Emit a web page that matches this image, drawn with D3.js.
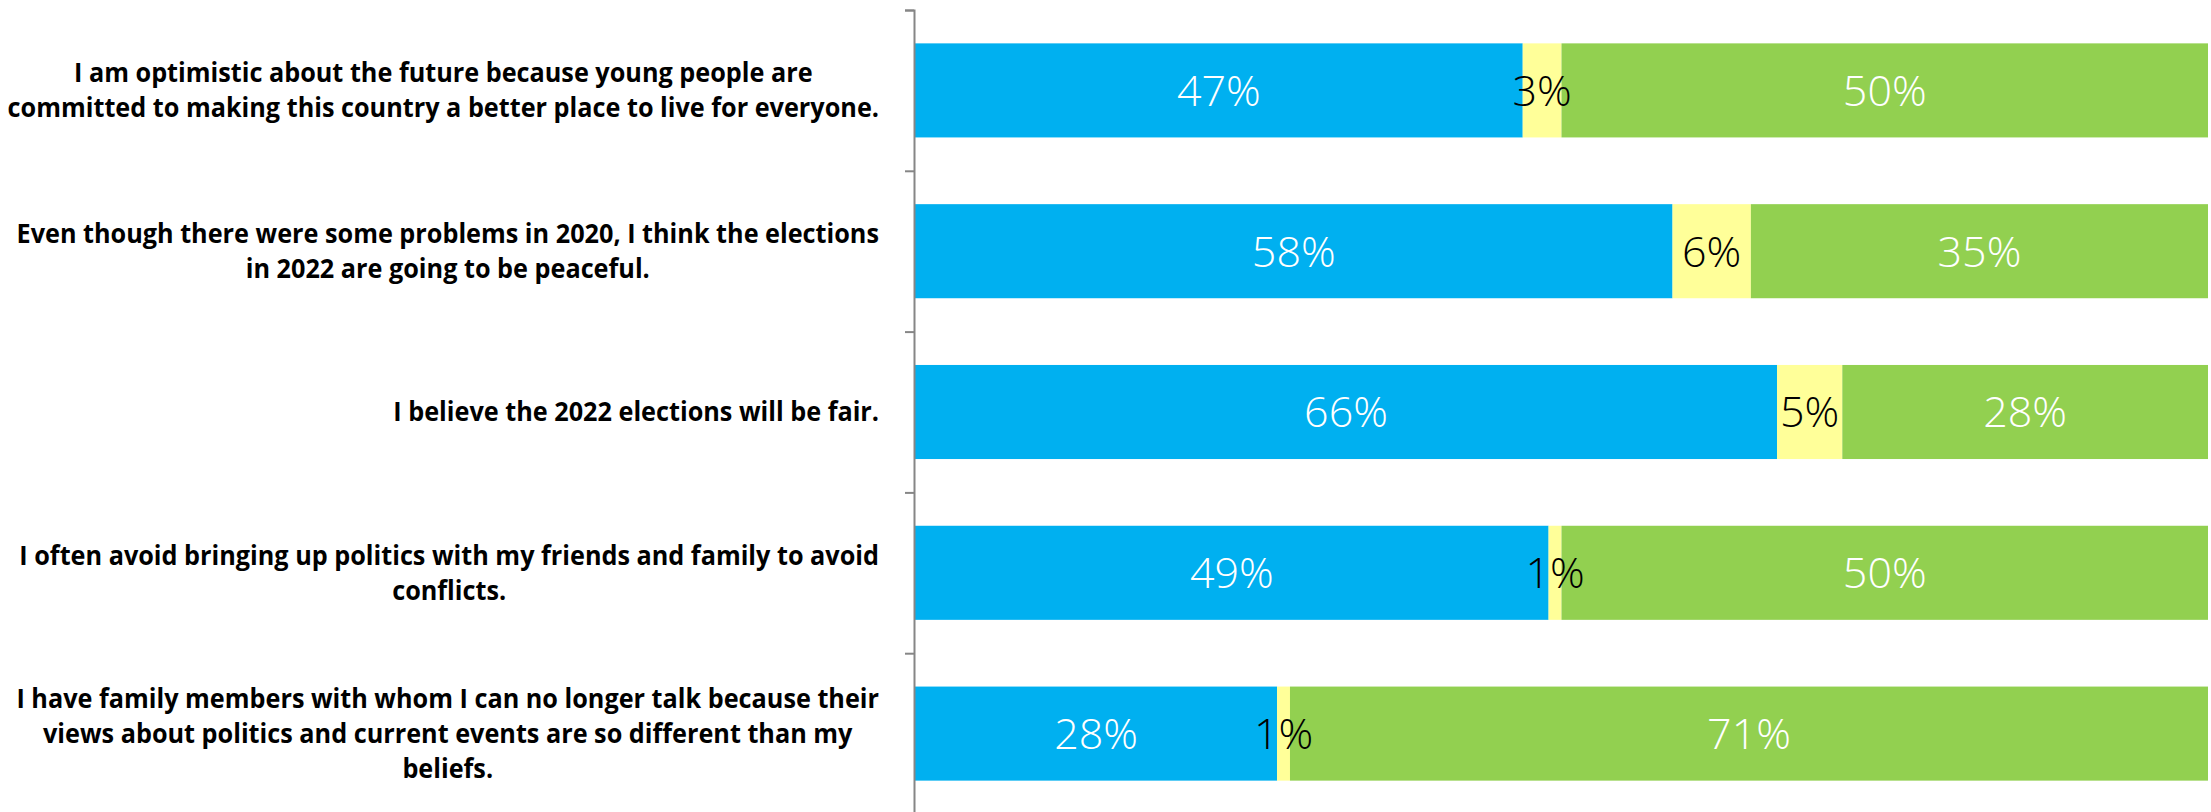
<!DOCTYPE html>
<html>
<head>
<meta charset="utf-8">
<script src="https://cdn.jsdelivr.net/npm/d3@7"></script>
<style>
  html, body { margin: 0; padding: 0; background: #fff; }
  svg { display: block; }
</style>
</head>
<body>
<svg id="chart" width="2211" height="812"></svg>
<script>
// ---- data ----
const categories = [
  "I am optimistic about the future because young people are\ncommitted to making this country a better place to live for everyone.",
  "Even though there were some problems in 2020, I think the elections\nin 2022 are going to be peaceful.",
  "I believe the 2022 elections will be fair.",
  "I often avoid bringing up politics with my friends and family to avoid\nconflicts.",
  "I have family members with whom I can no longer talk because their\nviews about politics and current events are so different than my\nbeliefs."
];
const seriesNames = ["agree", "neutral", "disagree"];
const agree    = [47, 58, 66, 49, 28];
const neutral  = [3, 6, 5, 1, 1];
const disagree = [50, 35, 28, 50, 71];
const seriesColors = ["#00B0F0", "#FFFF99", "#92D050"];
const labelColors  = ["#ffffff", "#000000", "#ffffff"];

// ---- layout ----
const W = 2211, H = 812;
const plot = { left: 914, right: 2208, top: 10, bottom: 814 };
const catFont = 27, catLine = 35, catScaleX = 0.935, catGap = 35;
const valFont = 43;

const rows = categories.map((c, i) => ({ cat: c, agree: agree[i], neutral: neutral[i], disagree: disagree[i] }));

const svg = d3.select("#chart");

const y = d3.scaleBand()
  .domain(d3.range(categories.length))
  .range([plot.top, plot.bottom])
  .paddingInner(0.415)
  .paddingOuter(0.2075);

const x = d3.scaleLinear().domain([0, 1]).range([plot.left + 1, plot.right]);

const stack = d3.stack().keys(seriesNames).offset(d3.stackOffsetExpand);
const stacked = stack(rows);

// bars
const layers = svg.append("g").selectAll("g")
  .data(stacked)
  .join("g")
  .attr("fill", (d, i) => seriesColors[i]);

layers.selectAll("rect")
  .data(d => d.map((v, j) => ({ v, j })))
  .join("rect")
  .attr("x", d => x(d.v[0]))
  .attr("width", d => x(d.v[1]) - x(d.v[0]))
  .attr("y", d => y(d.j))
  .attr("height", y.bandwidth());

// value labels
stacked.forEach((layer, si) => {
  svg.append("g").selectAll("text")
    .data(layer.map((v, j) => ({ v, j })))
    .join("text")
    .attr("transform", d => `translate(${(x(d.v[0]) + x(d.v[1])) / 2},${y(d.j) + y.bandwidth() / 2})`)
    .attr("text-anchor", "middle")
    .attr("dy", "0.36em")
    .style("font-family", "'Segoe UI Light','Open Sans','Lato',sans-serif")
    .style("font-weight", 300)
    .style("font-size", valFont + "px")
    .attr("fill", labelColors[si])
    .text(d => d.v.data[seriesNames[si]] + "%");
});

// axis (ticks between categories)
const bounds = d3.scaleLinear().domain([0, categories.length]).range([plot.top, plot.bottom]);
const axis = svg.append("g")
  .attr("transform", `translate(${plot.left},0)`)
  .call(d3.axisLeft(bounds).ticks(categories.length).tickFormat("").tickSize(9).tickSizeOuter(9));
axis.selectAll("path, line").attr("stroke", "#868686").attr("stroke-width", 2);

// category labels
categories.forEach((c, i) => {
  const lines = c.split("\n");
  const cy = y(i) + y.bandwidth() / 2;
  const g = svg.append("g")
    .attr("transform", `translate(${plot.left - catGap},0) scale(${catScaleX},1)`);
  const texts = g.selectAll("text")
    .data(lines)
    .join("text")
    .attr("y", (d, k) => cy + (k - (lines.length - 1) / 2) * catLine)
    .attr("dy", "0.35em")
    .attr("text-anchor", "middle")
    .style("font-family", "'Segoe UI','Open Sans','Noto Sans',sans-serif")
    .style("font-weight", 700)
    .style("font-size", catFont + "px")
    .attr("fill", "#000")
    .text(d => d);
  let maxW = 0;
  texts.each(function () { maxW = Math.max(maxW, this.getComputedTextLength()); });
  texts.attr("x", -maxW / 2);
});
</script>
</body>
</html>
